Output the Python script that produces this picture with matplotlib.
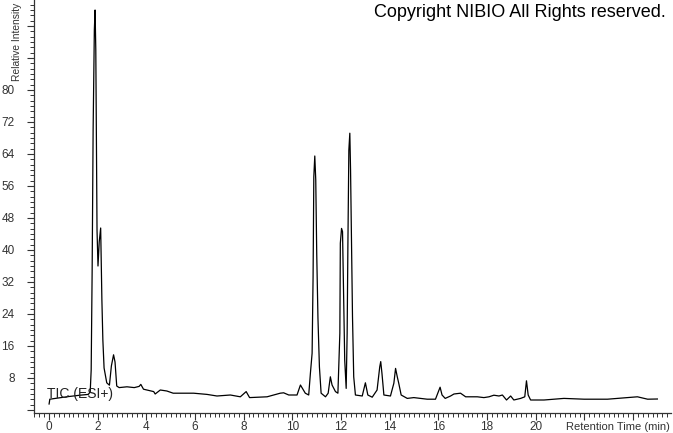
import matplotlib.pyplot as plt
from matplotlib.ticker import AutoMinorLocator, FixedLocator

# TIC (ESI+) chromatogram
retention_time = [0.00, 0.03, 0.25, 0.72, 1.27, 1.61, 1.69, 1.73, 1.77, 1.81, 1.86, 1.89,
                  1.92, 1.97, 2.01, 2.06, 2.12, 2.17, 2.21, 2.26, 2.37, 2.48, 2.56, 2.65,
                  2.71, 2.78, 2.88, 3.20, 3.50, 3.70, 3.77, 3.88, 4.30, 4.36, 4.57, 4.84,
                  5.10, 5.94, 6.49, 6.90, 7.45, 7.86, 8.10, 8.24, 8.96, 9.50, 9.64, 9.85,
                  10.19, 10.33, 10.53, 10.67, 10.74, 10.81, 10.85, 10.88, 10.92, 10.96, 11.00, 11.05,
                  11.11, 11.18, 11.36, 11.47, 11.56, 11.63, 11.77, 11.87, 11.95, 11.97, 12.02, 12.06,
                  12.11, 12.15, 12.21, 12.25, 12.28, 12.32, 12.36, 12.39, 12.43, 12.47, 12.52, 12.59,
                  12.87, 13.00, 13.10, 13.28, 13.48, 13.59, 13.63, 13.68, 13.76, 14.03, 14.17, 14.24,
                  14.31, 14.37, 14.47, 14.72, 14.99, 15.54, 15.88, 15.98, 16.07, 16.15, 16.28, 16.50,
                  16.64, 16.91, 17.12, 17.60, 17.87, 18.08, 18.28, 18.49, 18.63, 18.80, 18.97, 19.10,
                  19.38, 19.55, 19.62, 19.69, 19.79, 20.34, 21.16, 21.99, 22.95, 24.18, 24.60, 25.00]
intensity = [1.5, 2.7, 2.9, 3.3, 3.7, 3.9, 4.5, 10, 35, 70, 95, 100,
             90, 45, 36, 42, 45.5, 27.5, 17.5, 10.5, 6.8, 6.2, 11, 13.8,
             12, 6, 5.6, 5.8, 5.6, 5.9, 6.4, 5.2, 4.6, 4.0, 5.0, 4.75,
             4.2, 4.2, 3.9, 3.5, 3.75, 3.3, 4.6, 3.1, 3.3, 4.2, 4.3, 3.75,
             3.75, 6.25, 4.2, 3.75, 9.2, 14.2, 33.3, 58.3, 63.5, 57.5, 39, 23,
             10.8, 4.2, 3.3, 4.2, 8.3, 6.25, 4.6, 4.2, 19.2, 41.7, 45.4, 44.6,
             27.5, 12.5, 5.4, 19.2, 40.8, 65, 69.2, 60, 41.7, 23.3, 8.3, 3.75,
             3.5, 6.8, 3.75, 3.2, 5.0, 10.8, 12.1, 9.2, 3.75, 3.5, 6.7, 10.4,
             8.3, 6.7, 3.75, 2.9, 3.1, 2.7, 2.7, 4.3, 5.7, 3.75, 2.9, 3.5,
             4.0, 4.2, 3.3, 3.3, 3.1, 3.3, 3.7, 3.5, 3.75, 2.5, 3.5, 2.5,
             2.9, 3.3, 7.3, 3.75, 2.5, 2.5, 2.9, 2.7, 2.7, 3.3, 2.7, 2.75]

x_ticks = [0, 2, 4, 6, 8, 10, 12, 14, 16, 18, 20]
y_ticks = [8, 16, 24, 32, 40, 48, 56, 64, 72, 80]

plt.rcParams['font.family'] = ['Liberation Sans', 'DejaVu Sans']

W, H = 673, 433
fig = plt.figure(figsize=(W / 100, H / 100), dpi=100)
# axes box in pixels: left 34, right 671, bottom 413, top 0
ax = fig.add_axes([34 / W, (H - 413) / H, (671 - 34) / W, 413 / H])

ax.plot(retention_time, intensity, color='black', linewidth=0.9)

ax.set_xlim(-0.62, 25.56)
ax.set_ylim(-0.75, 102.5)

ax.spines['top'].set_visible(False)
ax.spines['right'].set_visible(False)
for s in ['left', 'bottom']:
    ax.spines[s].set_linewidth(0.9)
    ax.spines[s].set_color('#333333')

ax.set_xticks(x_ticks + [22, 24])
ax.set_xticklabels([str(v) for v in x_ticks] + ['', ''])
ax.xaxis.set_minor_locator(AutoMinorLocator(10))

ax.yaxis.set_major_locator(FixedLocator([0] + y_ticks + [88, 96]))
ax.set_yticklabels([''] + [str(v) for v in y_ticks] + ['', ''])
ax.yaxis.set_minor_locator(AutoMinorLocator(6))

ax.tick_params(axis='both', which='major', length=5, width=0.8, color='#333333',
               labelsize=8.5, labelcolor='#333333')
ax.tick_params(axis='both', which='minor', length=3, width=0.7, color='#333333')
ax.tick_params(axis='y', which='major', pad=9)
ax.tick_params(axis='x', which='major', pad=1)

fig.text(17 / W, 1 - 81 / H, 'Relative Intensity', rotation=90, ha='center', va='bottom',
         fontsize=7.4, color='#333333')
fig.text(670 / W, 1 - 430 / H, 'Retention Time (min)', ha='right', va='baseline',
         fontsize=8, color='#333333')
fig.text(666 / W, 1 - 17 / H, 'Copyright NIBIO All Rights reserved.', ha='right', va='baseline',
         fontsize=13, color='black')
fig.text(47 / W, 1 - 398 / H, 'TIC (ESI+)', ha='left', va='baseline',
         fontsize=10, color='#222222')

fig.savefig('out.png', dpi=100)
